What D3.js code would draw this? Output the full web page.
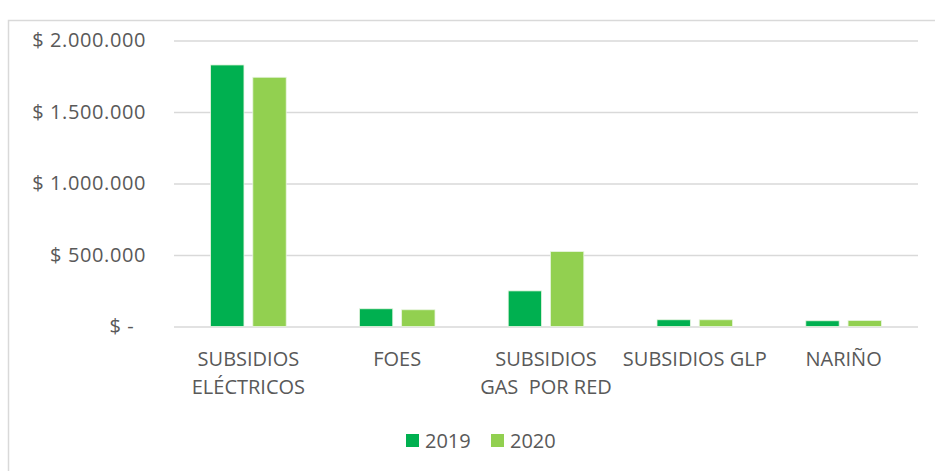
<!DOCTYPE html>
<html>
<head>
<meta charset="utf-8">
<script src="https://cdn.jsdelivr.net/npm/d3@7"></script>
<style>
  body { margin: 0; background: #fff; }
  text { font-family: "Open Sans", sans-serif; fill: #595959; white-space: pre; }
</style>
</head>
<body>
<svg width="935" height="471"></svg>
<script>
// data
var categories = ["SUBSIDIOS\nELÉCTRICOS", "FOES", "SUBSIDIOS\nGAS  POR RED", "SUBSIDIOS GLP", "NARIÑO"];
var years = ["2019", "2020"];
var values2019 = [1829000, 124000, 249000, 47000, 40000];
var values2020 = [1743000, 117000, 524000, 47000, 42000];
var yTicks = [0, 500000, 1000000, 1500000, 2000000];
var colors = ["#00b050", "#92d050"];

var svg = d3.select("svg");

// chart frame
svg.append("rect")
    .attr("x", 8.5).attr("y", 20.5)
    .attr("width", 1000).attr("height", 600)
    .attr("fill", "#fff")
    .attr("stroke", "#d9d9d9")
    .attr("stroke-width", 1.5);

var plotL = 174, plotR = 918, plotT = 40.5, plotB = 326.5;

var y = d3.scaleLinear().domain([0, 2000000]).range([plotB, plotT]);
var x0 = d3.scaleBand().domain(categories).range([plotL, plotR])
    .paddingInner(0.492).paddingOuter(0.246);
var x1 = d3.scaleBand().domain(years).range([0, x0.bandwidth()]).paddingInner(0.21);

var fmt = function(d) {
  if (d === 0) return "$ -  ";
  return "$ " + d3.format(",")(d).replace(/,/g, ".");
};

// gridlines + y labels
var yAxis = svg.append("g")
    .attr("transform", "translate(" + plotL + ",0)")
    .call(d3.axisLeft(y).tickValues(yTicks).tickSize(-(plotR - plotL)).tickPadding(28).tickFormat(fmt));
yAxis.select(".domain").remove();
yAxis.selectAll(".tick line").attr("stroke", "#d9d9d9").attr("stroke-width", 1.5);
yAxis.selectAll(".tick text").attr("font-size", 20).attr("fill", "#595959")
    .attr("font-family", "Open Sans, sans-serif")
    .attr("letter-spacing", 0.6);

// bars
var rows = categories.map(function(c, i) {
  return { cat: c, vals: [values2019[i], values2020[i]] };
});

var groups = svg.selectAll("g.cat")
    .data(rows)
    .enter().append("g")
    .attr("class", "cat")
    .attr("transform", function(d) { return "translate(" + x0(d.cat) + ",0)"; });

groups.selectAll("rect")
    .data(function(d) { return d.vals.map(function(v, j) { return { year: years[j], v: v }; }); })
    .enter().append("rect")
    .attr("x", function(d) { return x1(d.year); })
    .attr("y", function(d) { return y(d.v); })
    .attr("width", x1.bandwidth())
    .attr("height", function(d) { return y(0) - y(d.v); })
    .attr("fill", function(d, j) { return colors[j]; })
    .attr("stroke", "#e8f5e0")
    .attr("stroke-width", 0.8);

// category labels
var catLabels = svg.selectAll("text.catlab")
    .data(categories)
    .enter().append("text")
    .attr("class", "catlab")
    .attr("text-anchor", "middle")
    .attr("font-size", 20)
    .attr("x", function(d) { return x0(d) + x0.bandwidth() / 2; })
    .attr("y", 366);

catLabels.selectAll("tspan")
    .data(function(d) { return d.split("\n"); })
    .enter().append("tspan")
    .attr("x", function() { return d3.select(this.parentNode).attr("x"); })
    .attr("dy", function(d, i) { return i ? 28 : 0; })
    .text(function(d) { return d; });

// legend
var legend = svg.append("g").attr("transform", "translate(406,434)");
var legX = [0, 85];
years.forEach(function(yr, i) {
  legend.append("rect")
      .attr("x", legX[i]).attr("y", 0)
      .attr("width", 13).attr("height", 13)
      .attr("fill", colors[i]);
  legend.append("text")
      .attr("x", legX[i] + 19).attr("y", 14)
      .attr("font-size", 20)
      .text(yr);
});
</script>
</body>
</html>
